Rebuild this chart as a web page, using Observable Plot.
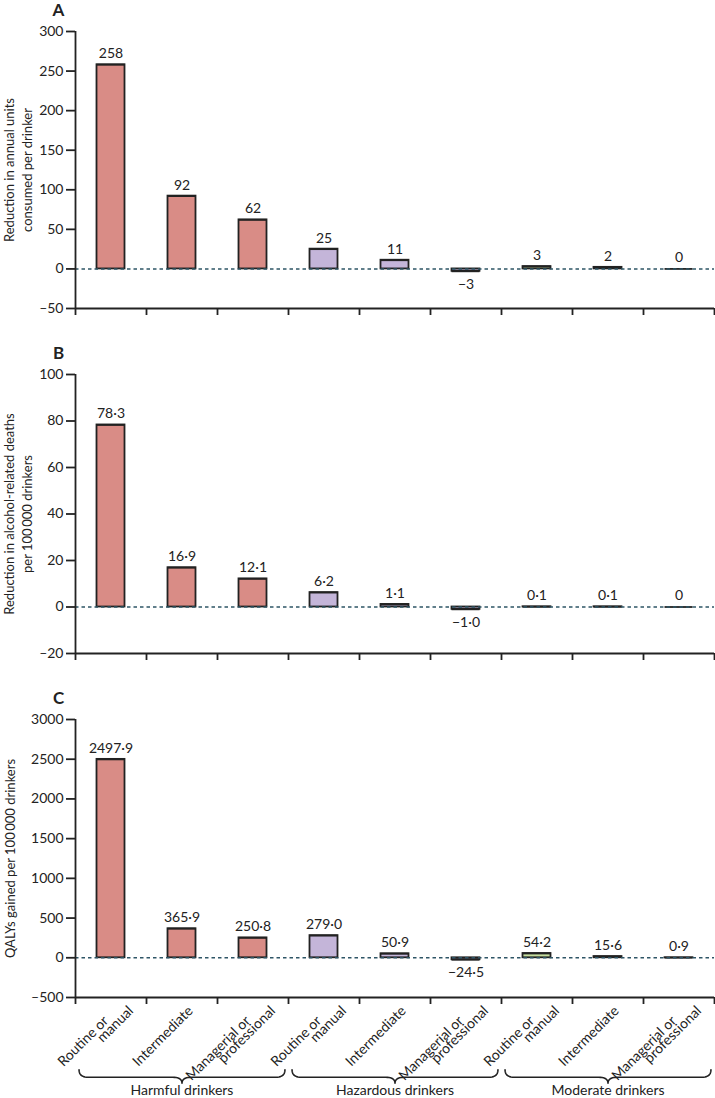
<!DOCTYPE html>
<html>
<head>
<meta charset="utf-8">
<script src="https://cdn.jsdelivr.net/npm/d3@7"></script>
<script src="https://cdn.jsdelivr.net/npm/@observablehq/plot@0.6"></script>
<style>
  html, body { margin: 0; padding: 0; background: #fff; }
  #chart svg { display: block; overflow: visible; }
</style>
</head>
<body>
<div id="chart"></div>
<script>
// ---------- data ----------
const categories = ["Routine or\nmanual", "Intermediate", "Managerial or\nprofessional",
                    "Routine or\nmanual", "Intermediate", "Managerial or\nprofessional",
                    "Routine or\nmanual", "Intermediate", "Managerial or\nprofessional"];
const groups = ["Harmful drinkers", "Hazardous drinkers", "Moderate drinkers"];
const groupColors = ["#d98c86", "#c4b5d9", "#c5de9e"];

const valuesA = [258, 92, 62, 25, 11, -3, 3, 2, 0];
const labelsA = ["258", "92", "62", "25", "11", "\u22123", "3", "2", "0"];
const ticksA = [-50, 0, 50, 100, 150, 200, 250, 300];

const valuesB = [78.3, 16.9, 12.1, 6.2, 1.1, -1.0, 0.1, 0.1, 0];
const labelsB = ["78·3", "16·9", "12·1", "6·2", "1·1", "\u22121·0", "0·1", "0·1", "0"];
const ticksB = [-20, 0, 20, 40, 60, 80, 100];

const valuesC = [2497.9, 365.9, 250.8, 279.0, 50.9, -24.5, 54.2, 15.6, 0.9];
const labelsC = ["2497·9", "365·9", "250·8", "279·0", "50·9", "\u221224·5", "54·2", "15·6", "0·9"];
const ticksC = [-500, 0, 500, 1000, 1500, 2000, 2500, 3000];

const titleA = "Reduction in annual units\nconsumed per drinker";
const titleB = "Reduction in alcohol-related deaths\nper 100\u2009000 drinkers";
const titleC = "QALYs gained per 100\u2009000 drinkers";

// ---------- helpers ----------
const FONT = "Lato, 'Liberation Sans', sans-serif";
const INK = "#222";
const W = 715, ML = 75, MR = 1;
const nCat = categories.length;
const SW = 1.8;

function rows(values, labels) {
  return values.map((v, i) => ({i, v, label: labels[i], group: groups[Math.floor(i / 3)]}));
}

function panel({letter, values, labels, ticks, title, titleDx, height, marginTop, marginBottom, withCategories}) {
  const data = rows(values, labels);
  const ymin = ticks[0], ymax = ticks[ticks.length - 1];
  const marks = [
    // bars
    Plot.rect(data, {x1: "i", x2: d => d.i + 1, y1: () => 0, y2: "v", fill: "group",
      stroke: INK, strokeWidth: SW, insetLeft: 21.5, insetRight: 21.5}),
    Plot.ruleY(data, {x1: "i", x2: d => d.i + 1, y: "v", stroke: INK, strokeWidth: SW,
      insetLeft: 21.5, insetRight: 21.5}),
    // zero line
    Plot.ruleY([0], {stroke: "#2e5566", strokeWidth: 1.6, strokeDasharray: "3.5,3"}),
    // axes lines
    Plot.ruleX([0], {y1: ymin, y2: ymax, stroke: INK, strokeWidth: SW}),
    Plot.ruleY([ymin], {stroke: INK, strokeWidth: SW}),
    Plot.axisY({ticks, tickSize: 9, tickPadding: 3, label: null, strokeWidth: SW, fontSize: 14, fill: INK,
      tickFormat: d => d < 0 ? "\u2013" + Math.abs(d) : String(d)}),
    Plot.axisX({ticks: d3.range(nCat + 1), tickSize: 7, label: null, strokeWidth: SW, tickFormat: () => ""}),
    // value labels
    Plot.text(data.filter(d => d.v >= 0), {x: d => d.i + 0.5, y: "v", text: "label", dy: -11, fontSize: 14, fill: INK}),
    Plot.text(data.filter(d => d.v < 0), {x: d => d.i + 0.5, y: "v", text: "label", dy: 13, fontSize: 14, fill: INK}),
    // y title
    Plot.text([title], {frameAnchor: "left", textAnchor: "middle", lineAnchor: "middle", dx: titleDx,
      rotate: -90, fontSize: 13, lineHeight: 1.35, fill: INK}),
    // panel letter
    Plot.text([letter], {frameAnchor: "top-left", textAnchor: "middle", lineAnchor: "middle", dx: -17, dy: -21,
      fontSize: 17, fontWeight: "bold", fill: INK})
  ];
  if (withCategories) {
    const lines = [];
    categories.forEach((c, i) => {
      const parts = c.split("\n");
      if (parts.length === 1) lines.push({i, text: parts[0], k: "single"});
      else { lines.push({i, text: parts[0], k: "first"}); lines.push({i, text: parts[1], k: "second"}); }
    });
    const common = {x: d => d.i + 0.5, y: () => ymin, text: "text", rotate: -45, textAnchor: "end",
      lineAnchor: "middle", fontSize: 14, fill: INK};
    marks.push(Plot.text(lines.filter(d => d.k === "single"), {...common, dx: 8.5, dy: 11}));
    marks.push(Plot.text(lines.filter(d => d.k === "first"), {...common, dx: -5, dy: 21}));
    marks.push(Plot.text(lines.filter(d => d.k === "second"), {...common, dx: 20, dy: 11}));
  }
  return Plot.plot({
    width: W, height, marginLeft: ML, marginRight: MR, marginTop, marginBottom,
    style: {fontFamily: FONT, color: INK, background: "transparent", overflow: "visible"},
    x: {type: "linear", domain: [0, nCat], axis: null},
    y: {domain: [ymin, ymax], axis: null},
    color: {domain: groups, range: groupColors},
    marks
  });
}

// brace geometry (in normalised units of the brace strip)
function bracePoints(g) {
  const a = g * 3 + 0.05, b = g * 3 + 2.95, m = (a + b) / 2;
  const top = 0.28, flat = 0.47, tip = 0.62, h = 0.13;
  const pts = [];
  const quad = (p0, p1, p2, n) => { for (let t = 0; t <= 1.0001; t += 1 / n) {
    pts.push({g, x: (1-t)*(1-t)*p0[0] + 2*(1-t)*t*p1[0] + t*t*p2[0], y: (1-t)*(1-t)*p0[1] + 2*(1-t)*t*p1[1] + t*t*p2[1]}); } };
  quad([a, top], [a, flat], [a + h, flat], 10);
  quad([m - h, flat], [m, flat], [m, tip], 10);
  quad([m, tip], [m, flat], [m + h, flat], 10);
  quad([b - h, flat], [b, flat], [b, top], 10);
  return pts;
}

const braceStrip = Plot.plot({
  width: W, height: 40, marginLeft: ML, marginRight: MR, marginTop: 0, marginBottom: 0,
  style: {fontFamily: FONT, color: INK, background: "transparent", overflow: "visible"},
  x: {type: "linear", domain: [0, nCat], axis: null},
  y: {domain: [0, 1], reverse: true, axis: null},
  marks: [
    Plot.line(groups.flatMap((_, g) => bracePoints(g)), {x: "x", y: "y", z: "g", stroke: INK, strokeWidth: 1.6}),
    Plot.text(groups, {x: (d, g) => g * 3 + 1.5, y: () => 0.79, text: d => d, fontSize: 14, fill: INK})
  ]
});

const chart = document.getElementById("chart");
chart.append(
  panel({letter: "A", values: valuesA, labels: labelsA, ticks: ticksA, title: titleA, titleDx: -58,
         height: 320, marginTop: 31, marginBottom: 12}),
  panel({letter: "B", values: valuesB, labels: labelsB, ticks: ticksB, title: titleB, titleDx: -58,
         height: 345, marginTop: 54, marginBottom: 12}),
  panel({letter: "C", values: valuesC, labels: labelsC, ticks: ticksC, title: titleC, titleDx: -66,
         height: 393, marginTop: 54, marginBottom: 61, withCategories: true}),
  braceStrip
);
</script>
</body>
</html>
